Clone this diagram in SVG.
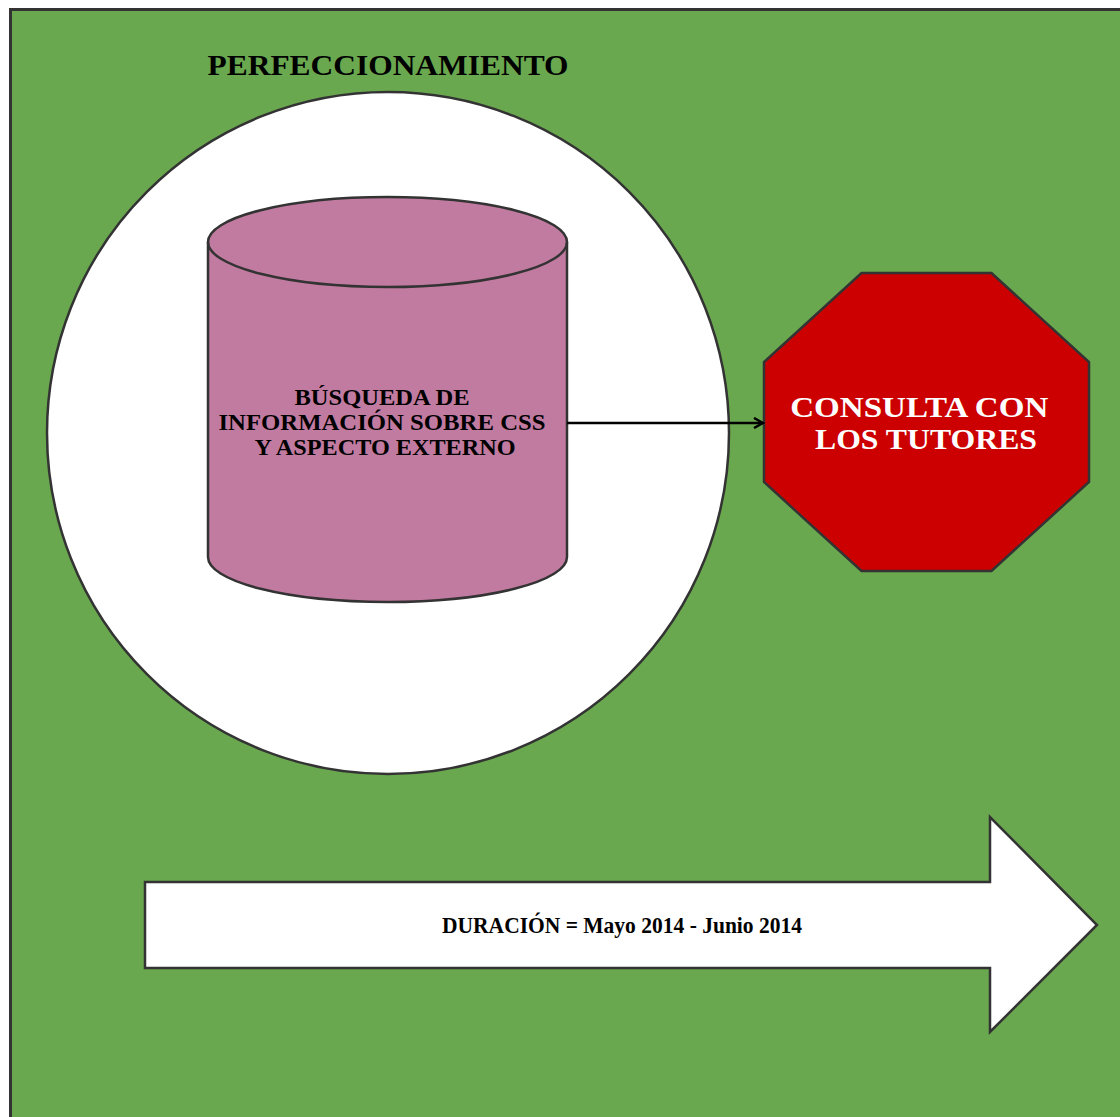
<svg xmlns="http://www.w3.org/2000/svg" width="1120" height="1117" viewBox="0 0 1120 1117">
  <defs>
    <style>
      .frame { fill: #6aa84f; stroke: #333333; stroke-width: 3; }
      .shape { stroke: #333333; stroke-width: 2.5; }
      .lbl { font-family: "Liberation Serif", "Times New Roman", serif; font-weight: bold; text-anchor: middle; }
      .edge { fill: none; stroke: #000000; stroke-width: 2.5; }
    </style>
    <marker id="openArrow" markerWidth="12" markerHeight="12" refX="10" refY="6" orient="auto" markerUnits="userSpaceOnUse">
      <path d="M1,1 L10,6 L1,11" fill="none" stroke="#000000" stroke-width="2.5"/>
    </marker>
  </defs>

  <rect width="1120" height="1117" fill="#ffffff"/>

  <!-- phase container -->
  <g id="phase">
    <rect class="frame" x="10.5" y="9.5" width="1120" height="1120"/>
    <text class="lbl" x="388" y="75" font-size="30" fill="#000000" textLength="361" lengthAdjust="spacingAndGlyphs">PERFECCIONAMIENTO</text>
  </g>

  <!-- circle grouping -->
  <g id="scope">
    <circle class="shape" cx="388" cy="433" r="341" fill="#ffffff"/>
  </g>

  <!-- database cylinder -->
  <g id="busqueda">
    <path class="shape" fill="#c27ba0" d="M208,242 A179.5,45 0 0 1 567,242 L567,557 A179.5,45 0 0 1 208,557 Z"/>
    <path class="shape" fill="none" d="M208,242 A179.5,45 0 0 0 567,242"/>
    <text class="lbl" font-size="24" fill="#000000">
      <tspan x="385" y="405" textLength="175" lengthAdjust="spacingAndGlyphs">BÚSQUEDA DE</tspan>
      <tspan x="385" y="430" textLength="327" lengthAdjust="spacingAndGlyphs">INFORMACIÓN SOBRE CSS</tspan>
      <tspan x="385" y="455" textLength="261" lengthAdjust="spacingAndGlyphs">Y ASPECTO EXTERNO</tspan>
    </text>
  </g>

  <!-- octagon -->
  <g id="consulta">
    <polygon class="shape" fill="#cc0000" points="861.5,273 991.5,273 1089,362 1089,482 991.5,571 861.5,571 764,482 764,362"/>
    <text class="lbl" font-size="30" fill="#ffffff">
      <tspan x="923" y="417" textLength="258" lengthAdjust="spacingAndGlyphs">CONSULTA CON</tspan>
      <tspan x="926" y="449" textLength="222" lengthAdjust="spacingAndGlyphs">LOS TUTORES</tspan>
    </text>
  </g>

  <!-- duration arrow -->
  <g id="duracion">
    <polygon class="shape" fill="#ffffff" stroke-width="3" points="145,882 990,882 990,817 1097,925 990,1032 990,968 145,968"/>
    <text class="lbl" x="622" y="933" font-size="23" fill="#000000" textLength="360" lengthAdjust="spacingAndGlyphs">DURACIÓN = Mayo 2014 - Junio 2014</text>
  </g>

  <!-- connectors -->
  <g id="connectors">
    <path class="edge" marker-end="url(#openArrow)" d="M567,423 L763,423"/>
  </g>
</svg>
